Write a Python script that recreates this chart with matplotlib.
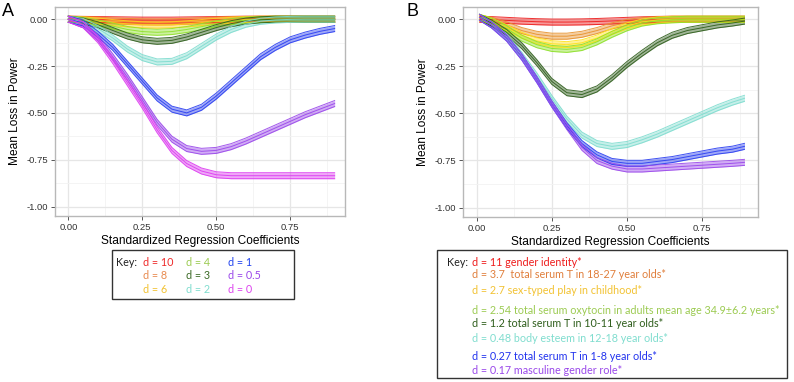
import numpy as np
import matplotlib
matplotlib.use("Agg")
import matplotlib.pyplot as plt
from matplotlib.patches import Rectangle

plt.rcParams['font.family'] = ['Liberation Sans', 'DejaVu Sans']

# ---- panel A data (mean loss in power vs standardized coefficient) ----
xA = [0.0, 0.05, 0.1, 0.15, 0.2, 0.25, 0.3, 0.35, 0.4, 0.45, 0.5, 0.55, 0.6, 0.65, 0.7, 0.75, 0.8, 0.85, 0.9]
a_d10 = [0, -0.001, -0.002, -0.003, -0.004, -0.005, -0.005, -0.005, -0.004, -0.003, -0.002, -0.001, 0, 0, 0, 0, 0, 0, 0]
a_d8 = [0, -0.002, -0.005, -0.009, -0.012, -0.014, -0.015, -0.014, -0.011, -0.008, -0.005, -0.002, -0.001, 0, 0, 0, 0, 0, 0]
a_d6 = [0, -0.004, -0.01, -0.018, -0.025, -0.03, -0.032, -0.03, -0.025, -0.018, -0.011, -0.006, -0.002, 0, 0, 0, 0, 0, 0]
a_d4 = [0, -0.006, -0.02, -0.037, -0.055, -0.066, -0.07, -0.066, -0.055, -0.04, -0.025, -0.013, -0.005, -0.002, 0, 0, 0, 0, 0]
a_d3 = [0, -0.01, -0.03, -0.06, -0.09, -0.11, -0.118, -0.113, -0.095, -0.07, -0.045, -0.024, -0.01, -0.003, 0, 0, 0, 0, 0]
a_d2 = [0, -0.012, -0.05, -0.10, -0.16, -0.205, -0.228, -0.225, -0.195, -0.145, -0.095, -0.055, -0.027, -0.011, -0.004, -0.001, 0, 0, 0]
a_d1 = [0, -0.02, -0.08, -0.15, -0.24, -0.33, -0.42, -0.48, -0.50, -0.47, -0.41, -0.34, -0.27, -0.20, -0.15, -0.11, -0.085, -0.065, -0.05]
a_d05 = [0, -0.03, -0.10, -0.20, -0.31, -0.43, -0.55, -0.64, -0.69, -0.705, -0.70, -0.68, -0.65, -0.615, -0.58, -0.545, -0.51, -0.48, -0.45]
a_d0 = [0, -0.03, -0.11, -0.22, -0.34, -0.46, -0.59, -0.70, -0.77, -0.81, -0.83, -0.835, -0.835, -0.835, -0.835, -0.835, -0.835, -0.835, -0.835]

# ---- panel B data ----
xB = [0.01, 0.05, 0.1, 0.15, 0.2, 0.25, 0.3, 0.35, 0.4, 0.45, 0.5, 0.55, 0.6, 0.65, 0.7, 0.75, 0.8, 0.85, 0.89]
b_d11 = [0, -0.002, -0.006, -0.01, -0.013, -0.015, -0.015, -0.014, -0.012, -0.009, -0.006, -0.003, -0.001, 0, 0, 0, 0, 0, 0]
b_d37 = [0.005, -0.005, -0.03, -0.06, -0.08, -0.09, -0.09, -0.08, -0.06, -0.035, -0.017, -0.007, -0.002, 0, 0, 0, 0, 0, 0]
b_d27 = [0.01, -0.01, -0.045, -0.085, -0.115, -0.13, -0.135, -0.125, -0.10, -0.065, -0.035, -0.015, -0.005, 0, 0, 0, 0, 0, 0]
b_d254 = [0.01, -0.01, -0.05, -0.10, -0.135, -0.155, -0.16, -0.15, -0.12, -0.08, -0.045, -0.02, -0.008, -0.003, 0, 0, 0, 0, 0]
b_d12 = [0.01, -0.02, -0.07, -0.14, -0.23, -0.33, -0.39, -0.40, -0.37, -0.31, -0.24, -0.18, -0.125, -0.085, -0.06, -0.045, -0.03, -0.02, -0.01]
b_d048 = [0.01, -0.03, -0.095, -0.19, -0.30, -0.42, -0.53, -0.615, -0.66, -0.675, -0.665, -0.64, -0.61, -0.575, -0.54, -0.505, -0.47, -0.44, -0.42]
b_d027 = [0.01, -0.03, -0.10, -0.20, -0.32, -0.45, -0.565, -0.66, -0.72, -0.755, -0.765, -0.765, -0.755, -0.745, -0.73, -0.715, -0.70, -0.69, -0.675]
b_d017 = [0.01, -0.03, -0.10, -0.20, -0.32, -0.45, -0.57, -0.68, -0.75, -0.78, -0.795, -0.795, -0.79, -0.785, -0.78, -0.775, -0.77, -0.765, -0.76]

keyA = ["d = 10", "d = 8", "d = 6", "d = 4", "d = 3", "d = 2", "d = 1", "d = 0.5", "d = 0"]
keyB = ["d = 11 gender identity*",
        "d = 3.7  total serum T in 18-27 year olds*",
        "d = 2.7 sex-typed play in childhood*",
        "d = 2.54 total serum oxytocin in adults mean age 34.9\u00b16.2 years*",
        "d = 1.2 total serum T in 10-11 year olds*",
        "d = 0.48 body esteem in 12-18 year olds*",
        "d = 0.27 total serum T in 1-8 year olds*",
        "d = 0.17 masculine gender role*"]

colA = ['#ee1c1c', '#f0902c', '#ffd21a', '#8ee02a', '#2f5e1c', '#7fdccf', '#2a3ef0', '#9a48ea', '#dc3cf0']
keycolA = ['#ee2a2a', '#e88a4e', '#f2c232', '#9ccb52', '#3b6a26', '#80ddcf', '#2244ee', '#9a48ea', '#dc44ee']
colB = ['#ee1c1c', '#e8922c', '#ffe21a', '#8ee02a', '#2f5e1c', '#7fdccf', '#2a3ef0', '#9a48ea']
keycolB = ['#ee1c1c', '#e07f3c', '#f2c232', '#9ccb52', '#2f5e1c', '#80ddcf', '#2233ee', '#9a48ea']

W, H = 794, 382
fig = plt.figure(figsize=(W / 100, H / 100), dpi=100)


def px_axes(l, t, r, b):
    return fig.add_axes([l / W, 1 - b / H, (r - l) / W, (b - t) / H])


def style(ax):
    ax.set_xlim(-0.045, 0.935)
    ax.set_ylim(-1.05, 0.065)
    ax.set_xticks([0, 0.25, 0.5, 0.75])
    ax.set_xticklabels(["0.00", "0.25", "0.50", "0.75"])
    ax.set_yticks([0, -0.25, -0.5, -0.75, -1.0])
    ax.set_yticklabels(["0.00", "-0.25", "-0.50", "-0.75", "-1.00"])
    ax.set_xticks([0.125, 0.375, 0.625, 0.875], minor=True)
    ax.set_yticks([-0.125, -0.375, -0.625, -0.875], minor=True)
    ax.grid(True, which='major', color='#e6e6e6', lw=0.9)
    ax.grid(True, which='minor', color='#f2f2f2', lw=0.6)
    ax.set_axisbelow(True)
    ax.tick_params(which='major', length=3, width=0.7, color='#555555',
                   labelsize=6.8, labelcolor='#333333', pad=2)
    ax.tick_params(which='minor', length=0)
    for s in ax.spines.values():
        s.set_color('#b8b8b8')
        s.set_linewidth(1.0)
    ax.set_xlabel("Standardized Regression Coefficients", fontsize=8.6, labelpad=2)
    ax.set_ylabel("Mean Loss in Power", fontsize=8.6, labelpad=4)


def band(ax, x, y, c, hw=0.016):
    x = np.array(x)
    y = np.array(y)
    ax.fill_between(x, y - hw, y + hw, color=c, alpha=0.45, lw=0)
    for off in (-hw, 0, hw):
        ax.plot(x, y + off, color=c, lw=0.7, alpha=0.9)


axA = px_axes(55, 7, 345, 216)
seriesA = [a_d10, a_d8, a_d6, a_d4, a_d3, a_d2, a_d1, a_d05, a_d0]
for ys, c in zip(seriesA, colA):
    band(axA, xA, ys, c)
style(axA)

axB = px_axes(463, 7, 758, 217)
seriesB = [b_d11, b_d37, b_d27, b_d254, b_d12, b_d048, b_d027, b_d017]
for ys, c in zip(seriesB, colB):
    band(axB, xB, ys, c)
style(axB)

fig.text(2 / W, 1 - 12 / H, "A", fontsize=13, va='center', ha='left')
fig.text(407 / W, 1 - 12 / H, "B", fontsize=13, va='center', ha='left')

# key box A
kfont = ['Lato', 'DejaVu Sans']
ks = 7.75
fig.patches.append(Rectangle((112 / W, 1 - 299 / H), 182 / W, 49 / H, transform=fig.transFigure,
                             fill=False, ec='#333333', lw=1.0))
fig.text(116 / W, 1 - 262 / H, "Key:", fontsize=ks, family=kfont, va='center', color='#222222')
colx = [143, 186, 228]
rowy = [262, 275.5, 289.5]
for i, (lab, c) in enumerate(zip(keyA, keycolA)):
    fig.text(colx[i // 3] / W, 1 - rowy[i % 3] / H, lab, fontsize=ks, family=kfont,
             va='center', color=c)

# key box B
fig.patches.append(Rectangle((437 / W, 1 - 378 / H), 350 / W, 128 / H, transform=fig.transFigure,
                             fill=False, ec='#333333', lw=1.0))
fig.text(447 / W, 1 - 262.5 / H, "Key:", fontsize=ks, family=kfont, va='center', color='#222222')
rowB = [262.5, 275, 290, 310, 323.5, 338, 357, 371]
for lab, c, yy in zip(keyB, keycolB, rowB):
    fig.text(472 / W, 1 - yy / H, lab, fontsize=ks, family=kfont, va='center', color=c)

fig.savefig("out.png", dpi=100)
